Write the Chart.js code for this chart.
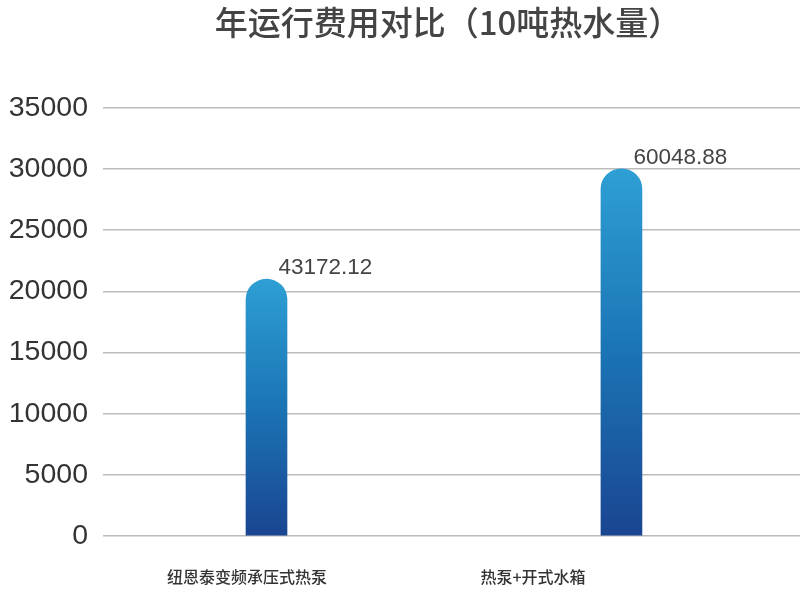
<!DOCTYPE html>
<html>
<head>
    <title>年运行费用对比</title>
    <script src="https://cdn.jsdelivr.net/npm/chart.js"></script>
    <style>
        html, body { margin: 0; padding: 0; background: #fff; }
        .wrap { width: 800px; height: 601px; }
    </style>
</head>
<body>
    <div class="wrap"><canvas id="costChart" width="800" height="601"></canvas></div>

    <script>
        // chart data
        const titleText = '年运行费用对比（10吨热水量）';
        const categories = ['纽恩泰变频承压式热泵', '热泵+开式水箱'];
        const barValues = [21000, 30030];
        const valueLabels = ['43172.12', '60048.88'];
        const yTicks = [0, 5000, 10000, 15000, 20000, 25000, 30000, 35000];

        // gradient per bar, from top of the bar down to the base
        function barGradient(ctx) {
            const chart = ctx.chart;
            const y = chart.scales.y;
            if (!y || !ctx.parsed) return '#2176b8';
            const top = y.getPixelForValue(ctx.parsed.y);
            const base = y.getPixelForValue(0);
            if (!isFinite(top) || !isFinite(base)) return '#2176b8';
            const g = chart.ctx.createLinearGradient(0, top, 0, base);
            g.addColorStop(0, '#2e9fd4');
            g.addColorStop(0.5, '#1b74b4');
            g.addColorStop(1, '#1a4591');
            return g;
        }

        // title, value labels and category labels
        const textPlugin = {
            id: 'texts',
            afterDraw(chart) {
                const c = chart.ctx;
                const meta = chart.getDatasetMeta(0);
                c.save();
                c.fillStyle = '#444';
                c.font = '500 33px "Noto Sans CJK SC"';
                c.textAlign = 'center';
                c.textBaseline = 'middle';
                c.fillText(titleText, 448, 22);

                c.font = '22.5px "Liberation Sans"';
                c.textAlign = 'left';
                c.textBaseline = 'alphabetic';
                meta.data.forEach((bar, i) => {
                    c.fillText(valueLabels[i], bar.x + 12, bar.y - 5);
                });

                const shift = [-19.5, -88.5];
                c.fillStyle = '#333';
                c.font = '500 16px "Noto Sans CJK SC"';
                c.textAlign = 'center';
                c.textBaseline = 'middle';
                meta.data.forEach((bar, i) => {
                    c.fillText(categories[i], bar.x + shift[i], chart.chartArea.bottom + 41);
                });
                c.restore();
            }
        };

        const chart = new Chart(document.getElementById('costChart'), {
            type: 'bar',
            data: {
                datasets: [{
                    data: barValues.map((v, i) => ({ x: i, y: v })),
                    backgroundColor: barGradient,
                    barThickness: 41,
                    borderRadius: { topLeft: 30, topRight: 30 },
                    borderSkipped: 'start'
                }]
            },
            options: {
                responsive: false,
                animation: false,
                layout: { padding: { top: 108, bottom: 65, left: 0, right: 0 } },
                plugins: {
                    legend: { display: false },
                    tooltip: { enabled: false }
                },
                scales: {
                    x: {
                        type: 'linear',
                        display: false,
                        offset: false,
                        min: -0.4606,
                        max: 1.503
                    },
                    y: {
                        min: 0,
                        max: 35000,
                        afterBuildTicks: s => { s.ticks = yTicks.map(v => ({ value: v })); },
                        afterFit: s => { s.width = 103; },
                        grid: { color: '#bcbcbc', lineWidth: 1.6, drawTicks: false },
                        border: { display: false },
                        ticks: {
                            padding: 15,
                            color: '#333',
                            font: { family: '"Liberation Sans"', size: 28.5 },
                            callback: v => String(v)
                        }
                    }
                }
            },
            plugins: [textPlugin]
        });
        chart.update();
    </script>
</body>
</html>
